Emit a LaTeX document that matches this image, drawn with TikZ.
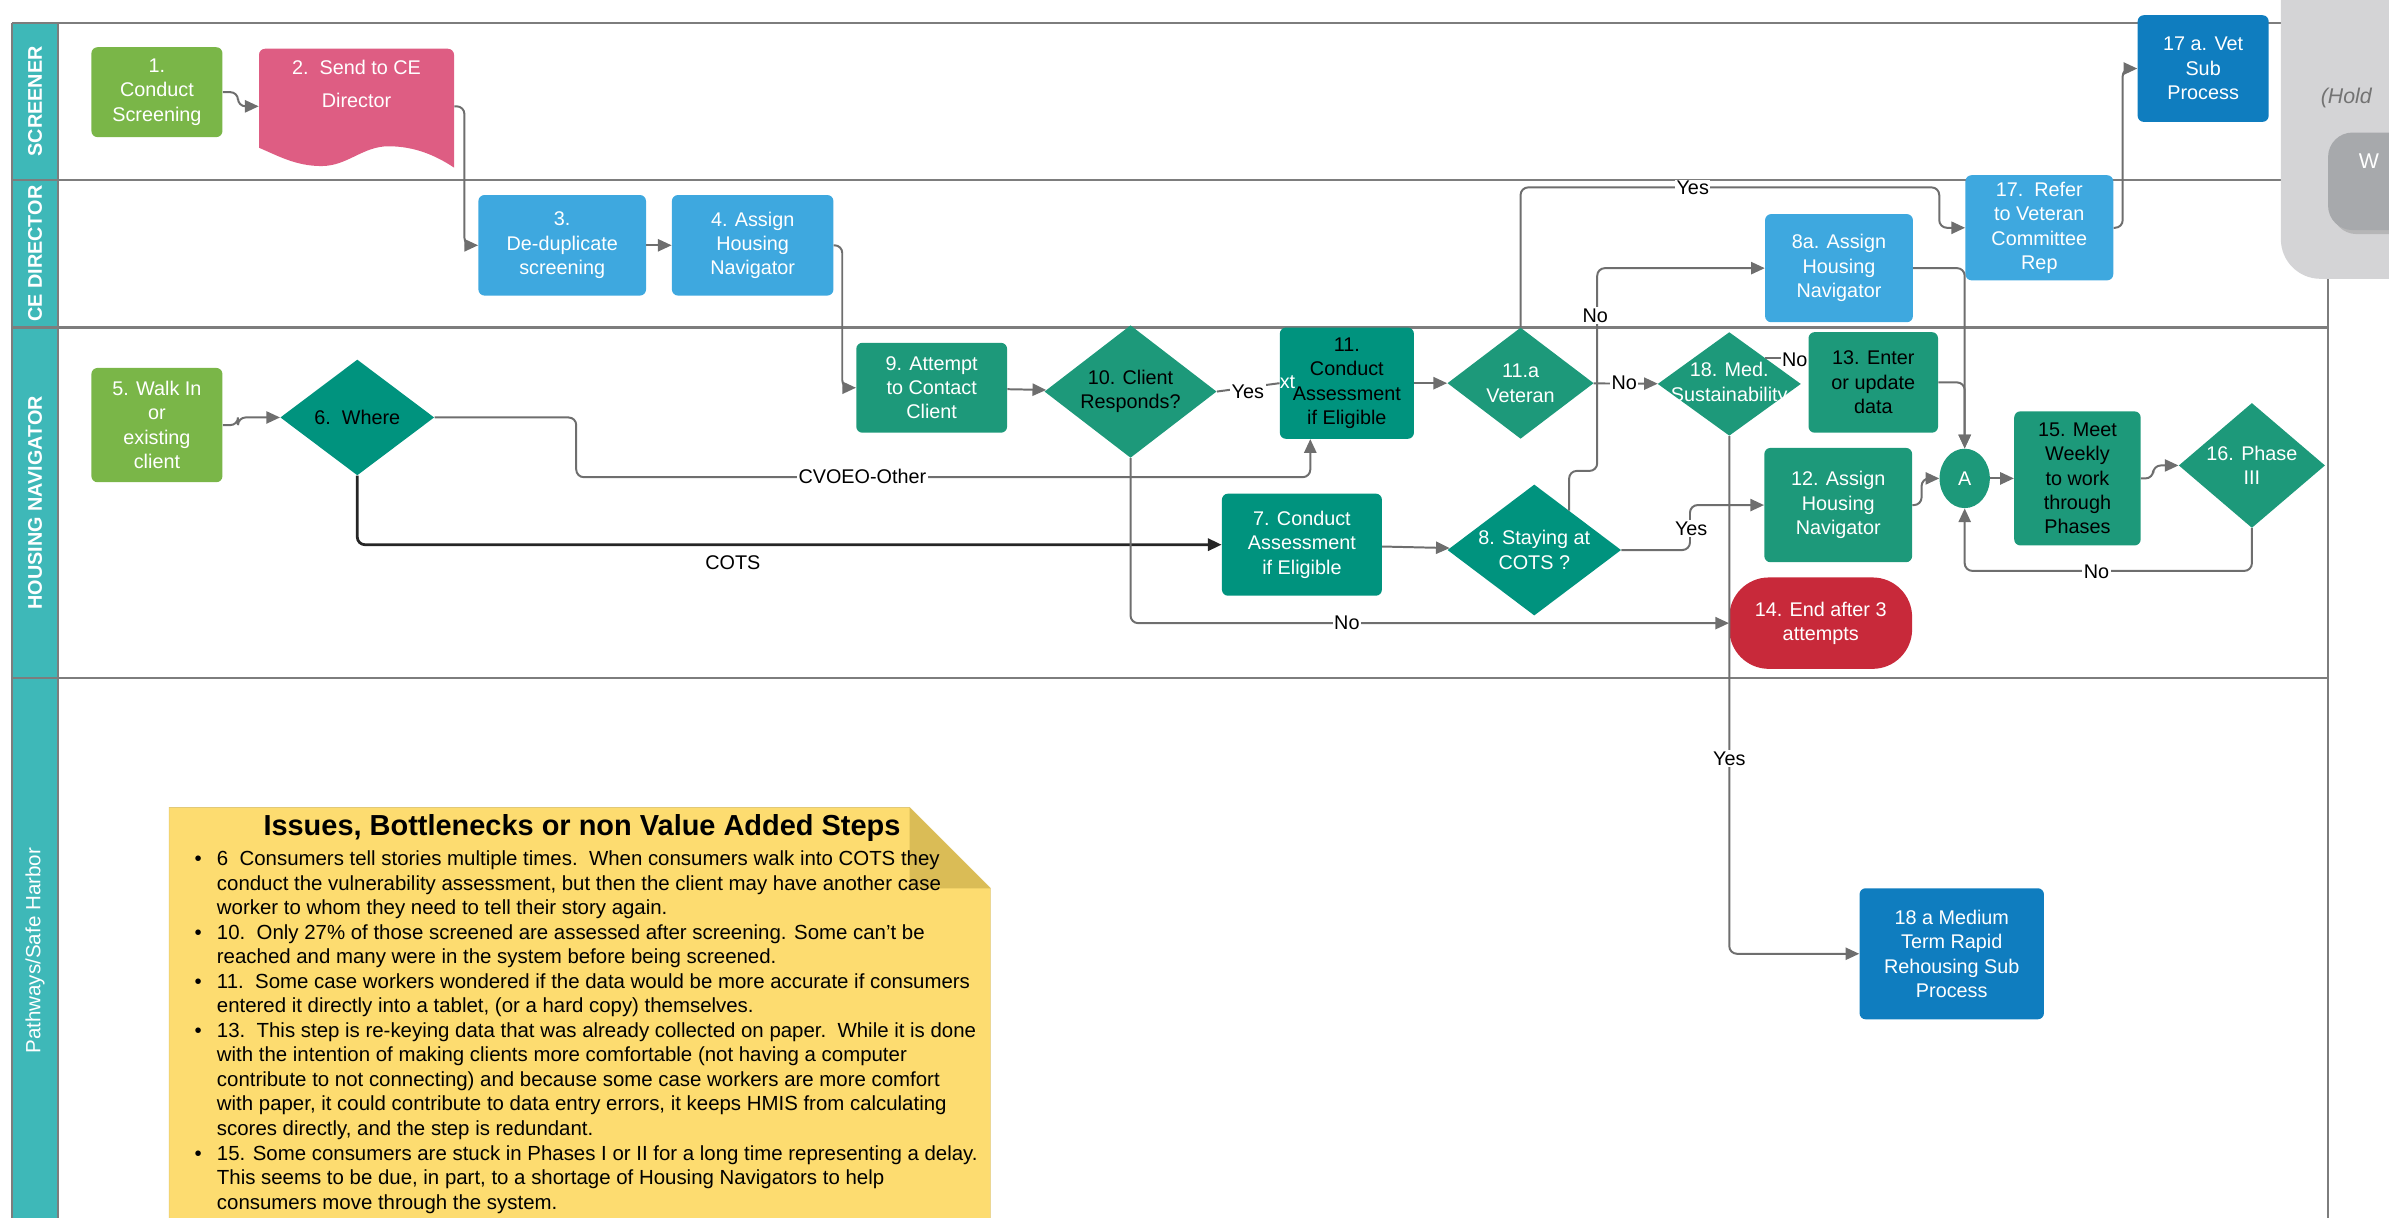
\documentclass[tikz,border=0pt]{standalone}
\usepackage{fontspec}
\setmainfont{Liberation Sans}
\usetikzlibrary{arrows.meta, calc, shapes.geometric, shadows}

\begin{document}
\begin{tikzpicture}[x=1pt, y=-1pt, >={Triangle[length=9pt, width=8pt]},
    box/.style={rounded corners=4pt, inner sep=0pt, align=center,
        font=\fontsize{13}{16}\selectfont},
    dia/.style={diamond, inner sep=0pt},
    dtxt/.style={inner sep=0pt, align=center, font=\fontsize{13}{16}\selectfont},
    conn/.style={draw=connline, line width=1.3pt, rounded corners=5pt},
    lbl/.style={fill=white, inner sep=1pt, font=\fontsize{13}{16}\selectfont},
    lane/.style={draw=laneline, line width=1.5pt},
    lanehead/.style={rotate=90, text=white, font=\fontsize{13}{16}\selectfont\bfseries}]
    % Colours of lanes and steps
    \definecolor{laneteal}{RGB}{62,184,184}
    \definecolor{laneline}{RGB}{125,125,125}
    \definecolor{connline}{RGB}{110,110,110}
    \definecolor{stepgreen}{RGB}{122,182,72}
    \definecolor{docpink}{RGB}{222,93,131}
    \definecolor{stepblue}{RGB}{62,168,223}
    \definecolor{subblue}{RGB}{15,125,191}
    \definecolor{hngreen}{RGB}{29,153,122}
    \definecolor{hndark}{RGB}{0,147,126}
    \definecolor{endred}{RGB}{200,41,58}
    \definecolor{noteyellow}{RGB}{253,220,112}
    \definecolor{notefold}{RGB}{218,188,86}
    \definecolor{holdgrey}{RGB}{212,212,214}
    \definecolor{wgrey}{RGB}{167,169,172}

    \useasboundingbox (0,0) rectangle (1568,799);
    \clip (0,0) rectangle (1568,799);

    % 1. Swim lanes
    \fill[laneteal] (8,15) rectangle (38,830);
    \draw[lane] (8,15) -- (1528,15);
    \draw[lane] (8,118) -- (1528,118);
    \draw[lane] (8,215) -- (1528,215);
    \draw[lane] (8,445) -- (1528,445);
    \draw[lane] (8,15) -- (8,830);
    \draw[lane] (38,15) -- (38,830);
    \draw[lane] (1528,15) -- (1528,830);
    \node[lanehead] (lscreen) at (23,66.5) {SCREENER};
    \node[lanehead] (lcedir) at (23,166.5) {CE DIRECTOR};
    \node[lanehead] (lhousing) at (23,330) {HOUSING NAVIGATOR};
    \node[lanehead, font=\fontsize{13.5}{16}\selectfont] (lpath) at (23,624) {Pathways/Safe Harbor};

    % 2. Hold box on the right
    \fill[holdgrey, rounded corners=26pt] (1497,-40) rectangle (1640,183);
    \fill[wgrey, rounded corners=16pt, drop shadow={opacity=0.35}] (1528,87) rectangle (1640,151);
    \node[anchor=west, inner sep=0pt, text=black!55, font=\fontsize{14}{16}\selectfont\itshape] (hold) at (1523,64) {(Hold};
    \node[anchor=west, inner sep=0pt, text=white, font=\fontsize{14}{16}\selectfont] (wtxt) at (1548,106) {W};

    % 3. Issues note
    \fill[noteyellow, draw=notefold!80] (111,530) -- (597,530) -- (650,583) -- (650,830) -- (111,830) -- cycle;
    \fill[notefold] (597,530) -- (597,583) -- (650,583) -- cycle;
    \node[font=\fontsize{19}{22}\selectfont\bfseries] (issuetitle) at (382,543.5) {Issues, Bottlenecks or non Value Added Steps};
    \node[anchor=north west, inner sep=0pt, align=left, font=\fontsize{13.4}{16.1}\selectfont] (issuelist) at (127.5,556.7) {%
      \begin{tabular}{@{}l@{\hspace{10pt}}l@{}}
      \textbullet & 6\ \ Consumers tell stories multiple times.\ \ When consumers walk into COTS they\\
      & conduct the vulnerability assessment, but then the client may have another case\\
      & worker to whom they need to tell their story again.\\
      \textbullet & 10.\ \ Only 27\% of those screened are assessed after screening. Some can't be\\
      & reached and many were in the system before being screened.\\
      \textbullet & 11.\ \ Some case workers wondered if the data would be more accurate if consumers\\
      & entered it directly into a tablet, (or a hard copy) themselves.\\
      \textbullet & 13.\ \ This step is re-keying data that was already collected on paper.\ \ While it is done\\
      & with the intention of making clients more comfortable (not having a computer\\
      & contribute to not connecting) and because some case workers are more comfort\\
      & with paper, it could contribute to data entry errors, it keeps HMIS from calculating\\
      & scores directly, and the step is redundant.\\
      \textbullet & 15. Some consumers are stuck in Phases I or II for a long time representing a delay.\\
      & This seems to be due, in part, to a shortage of Housing Navigators to help\\
      & consumers move through the system.
      \end{tabular}};

    % 4. Steps: screener and CE director
    \node[box, fill=stepgreen, text=white, minimum width=86, minimum height=59] (n1) at (103,60.5) {1.\\Conduct\\Screening};
    \node[minimum width=128, minimum height=65, inner sep=0pt] (n2) at (234,64.5) {};
    \fill[docpink] (170,97) [rounded corners=4pt] -- (170,32) -- (298,32) [sharp corners] -- (298,110)
        .. controls (286,102) and (272,96) .. (255,96)
        .. controls (238,96) and (228,109) .. (211,109)
        .. controls (194,109) and (182,102) .. (170,97) -- cycle;
    \node[box, text=white] (n2t) at (234,55) {2.\ \ Send to CE\\[6pt]Director};
    \node[box, fill=stepblue, text=white, minimum width=110, minimum height=66] (n3) at (369,161) {3.\\De-duplicate\\screening};
    \node[box, fill=stepblue, text=white, minimum width=106, minimum height=66] (n4) at (494,161) {4. Assign\\Housing\\Navigator};
    \node[box, fill=stepblue, text=white, minimum width=97, minimum height=71] (n8a) at (1207,176) {8a. Assign\\Housing\\Navigator};
    \node[box, fill=stepblue, text=white, minimum width=97, minimum height=69] (n17) at (1338.5,149.5) {17.\ \ Refer\\to Veteran\\Committee\\Rep};
    \node[box, fill=subblue, text=white, minimum width=86, minimum height=70] (n17a) at (1446,45) {17 a. Vet\\Sub\\Process};

    % 5. Steps: housing navigator
    \node[box, fill=stepgreen, text=white, minimum width=86, minimum height=75] (n5) at (103,279) {5. Walk In\\or\\existing\\client};
    \node[dia, fill=hndark, minimum width=101, minimum height=76,
        label={[dtxt]center:6.\ \ Where}] (n6) at (234.5,274) {};
    \node[box, fill=hngreen, text=white, minimum width=99, minimum height=59] (n9) at (611.5,254.5) {9. Attempt\\to Contact\\Client};
    \node[dia, fill=hngreen, minimum width=113, minimum height=87,
        label={[dtxt]center:10. Client\\Responds?}] (n10) at (742,257) {};
    \node[box, fill=hndark, minimum width=88, minimum height=73] (n11) at (884,251.5) {11.\\Conduct\\Assessment\\if Eligible};
    \node[dia, fill=hngreen, minimum width=96, minimum height=73,
        label={[dtxt, text=white]center:11.a\\Veteran}] (n11a) at (998,251.5) {};
    \node[dia, fill=hngreen, minimum width=94, minimum height=68,
        label={[dtxt, text=white]center:18. Med.\\Sustainability}] (n18) at (1135,252) {};
    \node[box, fill=hngreen, minimum width=85, minimum height=66] (n13) at (1229.5,251) {13. Enter\\or update\\data};
    \node[box, fill=hndark, text=white, minimum width=105, minimum height=67] (n7) at (854.5,357.5) {7. Conduct\\Assessment\\if Eligible};
    \node[dia, fill=hndark, minimum width=114, minimum height=86,
        label={[dtxt, text=white]center:8. Staying at\\COTS ?}] (n8) at (1007,361) {};
    \node[box, fill=hngreen, text=white, minimum width=97, minimum height=75] (n12) at (1206.5,331.5) {12. Assign\\Housing\\Navigator};
    \node[ellipse, fill=hngreen, text=white, minimum width=33, minimum height=39, inner sep=0pt,
        font=\fontsize{13}{16}\selectfont] (nA) at (1289.5,314) {A};
    \node[box, fill=hngreen, minimum width=83, minimum height=88] (n15) at (1363.5,314) {15. Meet\\Weekly\\to work\\through\\Phases};
    \node[dia, fill=hngreen, minimum width=96, minimum height=82,
        label={[dtxt, text=white]center:16. Phase\\III}] (n16) at (1478,305.5) {};
    \node[box, rounded corners=26pt, fill=endred, text=white, minimum width=120, minimum height=60] (n14) at (1195,409) {14. End after 3\\attempts};

    % 6. Steps: pathways
    \node[box, fill=subblue, text=white, minimum width=121, minimum height=86] (n18a) at (1281,626) {18 a Medium\\Term Rapid\\Rehousing Sub\\Process};

    % 7. Connectors
    \draw[conn, ->] (n1.east) -- ++(10,0) |- ($(n2.north west)+(0,38)$);
    \draw[conn, ->] ($(n2.north east)+(0,38)$) -| ($(n3.west)+(-9,0)$) -- (n3.west);
    \draw[conn, ->] (n3) -- (n4);
    \draw[conn, ->] (n4.east) -| ($(n9.west)+(-9,0)$) -- (n9.west);
    \draw[conn, ->] (n5.east) -- ++(10,0) |- (n6.west);
    \draw[conn, ->] (n6.east) -- ++(93,0) |- ($(n11.south)+(-24,25)$) -- ($(n11.south)+(-24,0)$);
    \draw[draw=black!85, line width=1.8pt, rounded corners=5pt, ->] (n6.south) |- (n7.west);
    \draw[conn, ->] (n9) -- (n10);
    \draw[conn] (n10.east) -- (n11.west);
    \draw[conn, ->] (n10.south) |- (n14.west);
    \draw[conn, ->] (n11) -- (n11a);
    \draw[conn, ->] (n11a.north) |- ($(n17.west)+(-17,-26.5)$) |- (n17.west);
    \draw[conn, ->] (n11a) -- (n18);
    \coordinate (m18) at ($(n18.north)!0.5!(n18.east)$);
    \draw[conn] (m18) -- (m18 -| n13.west);
    \draw[conn, ->] (n18.south) |- (n18a.west);
    \draw[conn, ->] (n7) -- (n8);
    \coordinate (m8) at ($(n8.north)!0.4!(n8.east)$);
    \draw[conn, ->] (m8) -- ++(0,-26) -| ($(n8a.west)+(-110,0)$) -- (n8a.west);
    \draw[conn, ->] (n8.east) -- ++(45,0) |- (n12.west);
    \draw[conn, ->] (n13.east) -| (nA.north);
    \draw[conn, ->] (n8a.east) -| (nA.north);
    \draw[conn, ->] (n12.east) -- ++(6,0) |- (nA.west);
    \draw[conn, ->] (nA) -- (n15);
    \draw[conn, ->] (n15.east) -- ++(8,0) |- (n16.west);
    \draw[conn, ->] (n16.south) |- ($(nA.south)+(0,41)$) -- (nA.south);
    \draw[conn, ->] (n17.east) -- ++(6,0) |- (n17a.west);

    % 8. Labels on the connectors
    \node[lbl] (lyes10) at (819,257) {Yes};
    \node[text=white, inner sep=0pt, font=\fontsize{13}{16}\selectfont] (lxt) at (845,251) {xt};
    \node[lbl] (lcvoeo) at (566,313) {CVOEO-Other};
    \node[font=\fontsize{13}{16}\selectfont] (lcots) at (481,369) {COTS};
    \node[lbl] (lno10) at (884,409) {No};
    \node[lbl] (lyes11a) at (1111,123.5) {Yes};
    \node[lbl] (lno11a) at (1066,251.5) {No};
    \node[lbl] (lno8) at (1047,207) {No};
    \node[lbl] (lyes8) at (1110,347) {Yes};
    \node[lbl, inner sep=0.5pt] (lno18) at (1178,236) {No};
    \node[lbl] (lyes18) at (1135,498) {Yes};
    \node[lbl] (lno16) at (1376,375) {No};
\end{tikzpicture}
\end{document}
